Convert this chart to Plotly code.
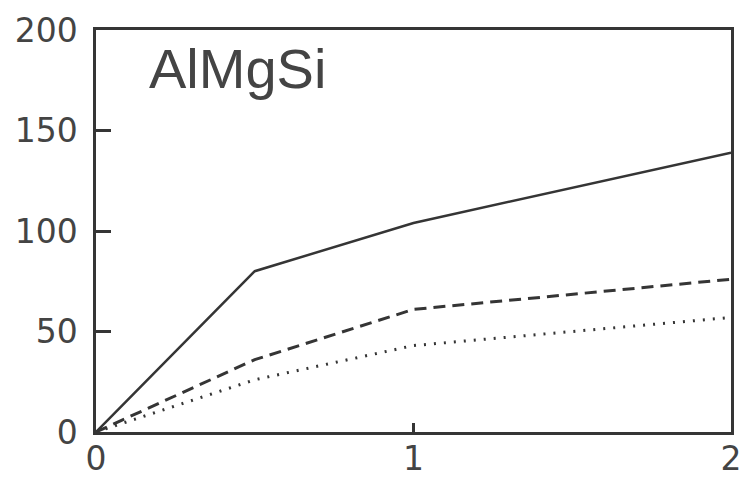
import plotly.graph_objects as go

x_vals = [0, 0.5, 1, 2]
solid_vals = [0, 80, 104, 139]
dashed_vals = [0, 36, 61, 76]
dotted_vals = [0, 26, 43, 57]
y_ticks = [0, 50, 100, 150, 200]
x_ticks = [0, 1, 2]
title_text = "AlMgSi"

ink = "#353535"
fig = go.Figure()
fig.add_trace(go.Scatter(x=x_vals, y=solid_vals, mode="lines",
                         line=dict(color=ink, width=2.5)))
fig.add_trace(go.Scatter(x=x_vals, y=dashed_vals, mode="lines",
                         line=dict(color=ink, width=3, dash="12px,7px")))
fig.add_trace(go.Scatter(x=x_vals, y=dotted_vals, mode="lines",
                         line=dict(color=ink, width=3, dash="2px,8px")))

font = dict(family="DejaVu Sans, sans-serif", size=33, color="#444")
fig.update_layout(
    width=742, height=482,
    margin=dict(l=96, r=11, t=30, b=50),
    paper_bgcolor="white", plot_bgcolor="white",
    showlegend=False,
    font=font,
    xaxis=dict(range=[0, 2], tickvals=x_ticks, ticktext=[str(v) for v in x_ticks],
               showgrid=False, zeroline=False, showline=True, mirror=True,
               automargin=False, ticklabeloverflow="allow", ticklabelstandoff=-4,
               linecolor=ink, linewidth=2.5, ticks="inside", ticklen=9,
               tickwidth=2.5, tickcolor=ink, tickfont=font),
    yaxis=dict(range=[0, 200], tickvals=y_ticks, ticktext=[str(v) for v in y_ticks],
               showgrid=False, zeroline=False, showline=True, mirror=True,
               automargin=False, ticklabeloverflow="allow", ticklabelstandoff=9,
               linecolor=ink, linewidth=2.5, ticks="inside", ticklen=15,
               tickwidth=2.5, tickcolor=ink, tickfont=font),
    annotations=[dict(text=title_text, xref="paper", yref="paper",
                      x=0.08, y=0.905, xanchor="left", yanchor="middle",
                      showarrow=False,
                      font=dict(family="Liberation Sans, Arial, sans-serif",
                                size=56, color="#444"))],
)
fig.write_html("out.html")
